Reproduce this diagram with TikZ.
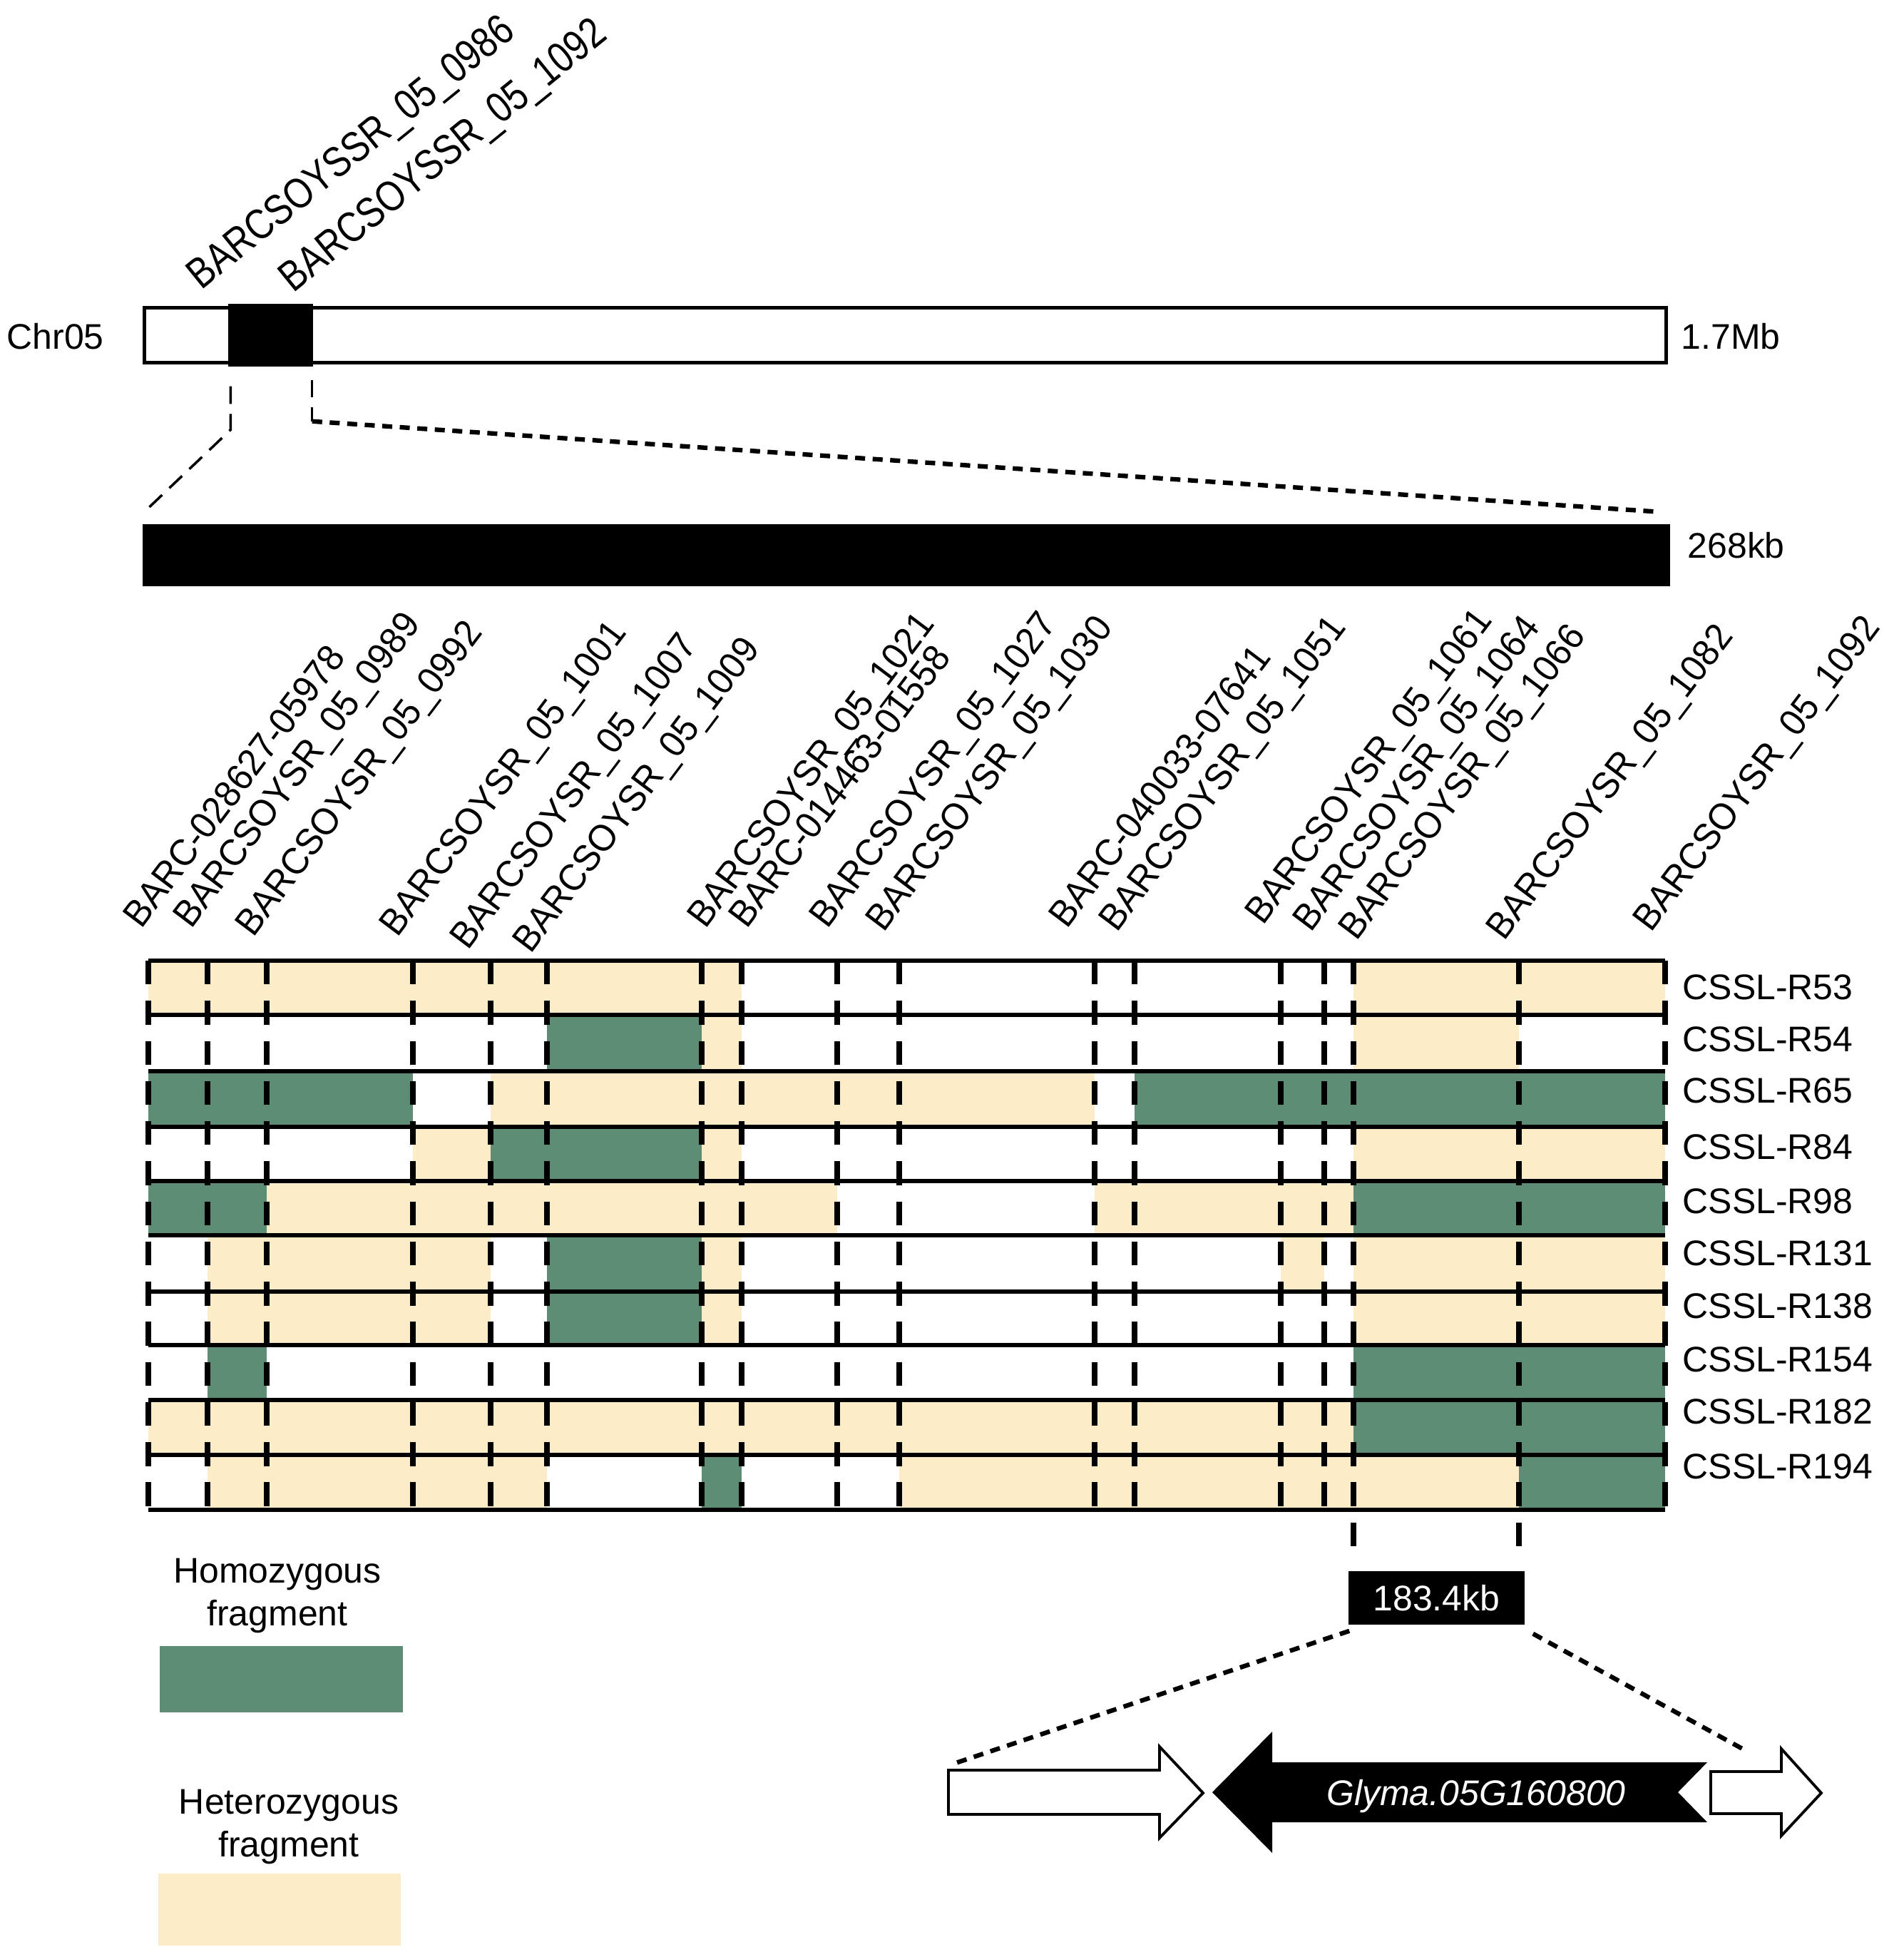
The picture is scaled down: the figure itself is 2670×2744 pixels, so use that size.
\documentclass[tikz,border=0pt]{standalone}
\usepackage{fontspec}
\setmainfont{Liberation Sans}
\definecolor{hom}{RGB}{94,141,117}
\definecolor{het}{RGB}{252,236,200}
\tikzset{
	lab/.style={font=\fontsize{14.2}{16.8}\selectfont, inner sep=0pt},
	gname/.style={lab, text=white, font=\fontsize{14.2}{16.8}\selectfont\itshape},
	mk/.style={lab, rotate=53, yscale=1.05, anchor=base west},
	topmk/.style={lab, rotate=39, yscale=1.2, anchor=base west},
	rowline/.style={line width=1.7pt},
	markline/.style={line width=2.2pt, dash pattern=on 9.5pt off 6.5pt},
	thindash/.style={line width=1pt, dash pattern=on 7pt off 4pt},
	sqdash/.style={line width=1.8pt, dash pattern=on 4pt off 3pt},
	genebox/.style={line width=1.1pt, fill=white}
}
\begin{document}
\begin{tikzpicture}[x=0.01cm, y=-0.01cm]
	\useasboundingbox (0,0) rectangle (2670,2744);
	\node[draw, line width=1.4pt, minimum width=21.32cm, minimum height=0.77cm, inner sep=0pt] (chr) at (1269.5,470) {};
	\node[fill, minimum width=1.19cm, minimum height=0.88cm, inner sep=0pt] (blk) at (379.5,470) {};
	\node[lab, anchor=west] (chrname) at (9,472) {Chr05};
	\node[lab, anchor=west] (chrlen) at (2357,472) {1.7Mb};
	\node[topmk] (tm1) at (282,408) {BARCSOYSSR\_05\_0986};
	\node[topmk] (tm2) at (411,412) {BARCSOYSSR\_05\_1092};
	\node[fill, minimum width=21.40cm, minimum height=0.87cm, inner sep=0pt] (kb) at (1271,778.5) {};
	\node[lab, anchor=west] (kblen) at (2366,765) {268kb};
	\draw[thindash] ([shift={(4,27)}]blk.south west) -- ++(0,61) -- ([shift={(0,-14)}]kb.north west);
	\draw[thindash] ([shift={(-2,18)}]blk.south east) -- ++(0,58) coordinate (bend);
	\draw[sqdash] (bend) -- ([shift={(-22,-17)}]kb.north east);
	\foreach \x [count=\i from 0] in {208,291,374,579,688,767,984,1040,1174,1261,1535,1591,1796,1857,1898,2130,2335}
		\coordinate (L\i) at (\x,1347);
	\foreach \y [count=\i from 0] in {1347,1423,1502,1580,1656,1732,1811,1886,1963,2040,2117}
		\coordinate (R\i) at (208,\y);
	\coordinate (Rb) at (208,2190);
	\foreach \r/\segs in {0/{0/7/het,14/16/het}, 1/{5/6/hom,6/7/het,14/15/het},
		2/{0/3/hom,4/10/het,11/16/hom}, 3/{3/4/het,4/6/hom,6/7/het,14/16/het},
		4/{0/2/hom,2/8/het,10/14/het,14/16/hom}, 5/{1/4/het,5/6/hom,6/7/het,12/13/het,14/16/het},
		6/{1/4/het,5/6/hom,6/7/het,14/16/het}, 7/{1/2/hom,14/16/hom},
		8/{0/14/het,14/16/hom}, 9/{1/5/het,6/7/hom,9/15/het,15/16/hom}}{
		\pgfmathtruncatemacro\s{\r+1}
		\foreach \a/\b/\c in \segs
			\fill[\c] (L\a |- R\r) rectangle (L\b |- R\s);
	}
	\foreach \i in {0,...,10}
		\draw[rowline] (L0 |- R\i) -- (L16 |- R\i);
	\foreach \i in {0,...,13,16}
		\draw[markline] (L\i |- R0) -- (L\i |- R10);
	\foreach \i in {14,15}
		\draw[markline] (L\i |- R0) -- (L\i |- Rb);
	\foreach \y/\t [count=\n] in {1384/R53,1457/R54,1529/R65,1608/R84,1684/R98,1757/R131,1831/R138,1906/R154,1979/R182,2056/R194}
		\node[lab, anchor=west] (row\n) at (2359,\y) {CSSL-\t};
	\foreach \x/\y/\t [count=\n] in {198/1304/BARC-028627-05978, 268/1304/BARCSOYSR\_05\_0989,
		355/1316/BARCSOYSR\_05\_0992, 557/1316/BARCSOYSR\_05\_1001, 656/1334/BARCSOYSR\_05\_1007,
		744/1339/BARCSOYSR\_05\_1009, 989/1304/BARCSOYSR\_05\_1021, 1047/1304/BARC-014463-01558,
		1160/1304/BARCSOYSR\_05\_1027, 1239/1309/BARCSOYSR\_05\_1030, 1496/1304/BARC-040033-07641,
		1566/1309/BARCSOYSR\_05\_1051, 1771/1299/BARCSOYSR\_05\_1061, 1838/1309/BARCSOYSR\_05\_1064,
		1902/1321/BARCSOYSR\_05\_1066, 2109/1321/BARCSOYSR\_05\_1082, 2315/1309/BARCSOYSR\_05\_1092}
		\node[mk] (m\n) at (\x,\y) {\t};
	\node[lab, fill, text=white, minimum width=2.47cm, minimum height=0.75cm] (seg) at (2014.5,2240.5) {183.4kb};
	\coordinate (g1) at (1337,2473);
	\coordinate (g3) at (2447,2454);
	\draw[sqdash] ([shift={(2,8)}]seg.south west) -- (g1);
	\draw[sqdash] ([shift={(11,12)}]seg.south east) -- (g3);
	\draw[genebox] (1330,2482) -- (1626,2482) -- (1626,2449) -- (1687,2514) -- (1626,2577) -- (1626,2544) -- (1330,2544) -- cycle;
	\fill (1700,2513) -- (1784,2428) -- (1784,2471) -- (2394,2471) -- (2353,2513) -- (2394,2555) -- (1784,2555) -- (1784,2598) -- cycle;
	\node[gname] (glyma) at (2070,2519) {Glyma.05G160800};
	\draw[genebox] (2399,2484) -- (2498,2484) -- (2498,2452) -- (2554,2514) -- (2498,2574) -- (2498,2543) -- (2399,2543) -- cycle;
	\node[lab, align=center, anchor=base] (homtxt) at (389,2279) {Homozygous\\fragment};
	\fill[hom] (224,2308) rectangle (565,2401);
	\node[lab, align=center, anchor=base] (hettxt) at (405,2603) {Heterozygous\\fragment};
	\fill[het] (222,2627) rectangle (562,2728);
\end{tikzpicture}
\end{document}
